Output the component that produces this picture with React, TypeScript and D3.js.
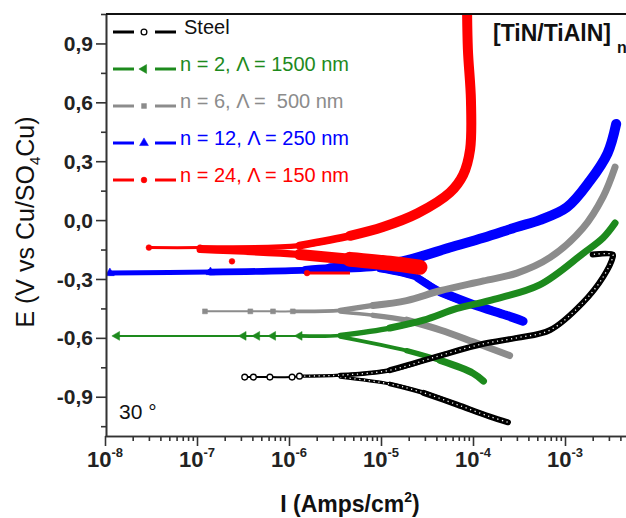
import * as d3 from 'd3'
import { useEffect, useRef } from 'react'

type Pt = [number, number] // [I (A/cm2), E (V vs Cu/SO4Cu)]

// polarisation curves: anodic branch starts at the tip (Ecorr)
const steelAnodic: Pt[] = [[3.3e-7, -0.80], [4.1e-7, -0.80], [6.2e-7, -0.80], [1.08e-6, -0.80], [1.3e-6, -0.795], [3.6e-6, -0.79], [1.25e-5, -0.765], [4.4e-5, -0.69], [1.3e-4, -0.63], [3.0e-4, -0.60], [6.9e-4, -0.56], [1.57e-3, -0.42], [2.6e-3, -0.29], [3.3e-3, -0.19], [3.3e-3, -0.175], [2.0e-3, -0.175]]
const steelCathodic: Pt[] = [[3.6e-6, -0.80], [1.25e-5, -0.835], [2.9e-5, -0.88], [6.7e-5, -0.94], [1.5e-4, -1.0], [2.4e-4, -1.03]]

const n2Anodic: Pt[] = [[1.35e-8, -0.59], [3.2e-7, -0.59], [4.5e-7, -0.59], [6.7e-7, -0.59], [1.3e-6, -0.59], [3.6e-6, -0.588], [1.25e-5, -0.55], [2.9e-5, -0.51], [6.7e-5, -0.45], [1.5e-4, -0.41], [5.3e-4, -0.33], [1.57e-3, -0.17], [2.6e-3, -0.09], [3.5e-3, -0.015]]
const n2Cathodic: Pt[] = [[3.6e-6, -0.595], [1.9e-5, -0.665], [4.4e-5, -0.715], [1.0e-4, -0.78], [1.3e-4, -0.82]]

const n6Anodic: Pt[] = [[1.22e-7, -0.465], [3.8e-7, -0.465], [6.7e-7, -0.465], [1.1e-6, -0.465], [3.6e-6, -0.46], [8.2e-6, -0.435], [1.9e-5, -0.41], [4.4e-5, -0.36], [1.3e-4, -0.31], [3.0e-4, -0.27], [6.9e-4, -0.19], [1.57e-3, -0.04], [2.6e-3, 0.12], [3.5e-3, 0.27]]
const n6Cathodic: Pt[] = [[3.6e-6, -0.468], [8.2e-6, -0.485], [1.9e-5, -0.51], [4.4e-5, -0.56], [1.0e-4, -0.62], [2.5e-4, -0.69]]

const n12Anodic: Pt[] = [[1.13e-8, -0.27], [1.4e-7, -0.265], [1.5e-6, -0.255], [2.8e-6, -0.245], [9.7e-6, -0.23], [2.1e-5, -0.20], [5.6e-5, -0.14], [1.3e-4, -0.09], [3.0e-4, -0.035], [5.3e-4, 0.0], [1.05e-3, 0.065], [1.87e-3, 0.20], [2.9e-3, 0.34], [3.6e-3, 0.49]]
const n12Cathodic: Pt[] = [[9.7e-6, -0.25], [2.5e-5, -0.295], [4.4e-5, -0.365], [1.0e-4, -0.43], [2.3e-4, -0.485], [3.5e-4, -0.515]]

const n24Anodic: Pt[] = [[3.0e-8, -0.14], [1.08e-7, -0.14], [1.3e-6, -0.13], [4.6e-6, -0.08], [1.05e-5, -0.035], [2.5e-5, 0.035], [5.6e-5, 0.14], [7.8e-5, 0.23], [9.3e-5, 0.36], [9.5e-5, 0.61], [8.8e-5, 0.87], [8.6e-5, 1.12]]
const n24Cathodic: Pt[] = [[1.08e-7, -0.15], [1.3e-6, -0.175], [4.6e-6, -0.2], [1.25e-5, -0.22], [2.65e-5, -0.24]]
const n24Stray: Pt[] = [[1.57e-6, -0.27], [4.6e-6, -0.27]]
const n24Dots: Pt[] = [[2.4e-7, -0.21], [1.57e-6, -0.27]]

const seriesNames = ['Steel', 'n = 2, Λ = 1500 nm', 'n = 6, Λ =  500 nm', 'n = 12, Λ = 250 nm', 'n = 24, Λ = 150 nm']
const xDecades = [1e-8, 1e-7, 1e-6, 1e-5, 1e-4, 1e-3]
const yTicks = [-0.9, -0.6, -0.3, 0, 0.3, 0.6, 0.9]

const styles = [
  { color: '#000000', marker: 'circle', hollow: true, thin: 2, anW: 6, caW: 6, thickFrom: 2e-6 },
  { color: '#1d8a1d', marker: 'left', hollow: false, thin: 2, anW: 7, caW: 7, thickFrom: 2.5e-6 },
  { color: '#8c8c8c', marker: 'square', hollow: false, thin: 2, anW: 7, caW: 7, thickFrom: 3e-6 },
  { color: '#0000ff', marker: 'up', hollow: false, thin: 5, anW: 10, caW: 9, thickFrom: 1.5e-6 },
  { color: '#ff0000', marker: 'circle', hollow: false, thin: 3, anW: 10, caW: 15, thickFrom: 1.5e-7 },
]

const App = () => {
  const svgRef = useRef<SVGSVGElement>(null)

  useEffect(() => {
    const svg = d3.select(svgRef.current)
    svg.selectAll('*').remove()
    const font = 'Liberation Sans, Arial, sans-serif'

    const x = d3.scaleLog().domain([1e-8, 1e-2]).range([105, 657])
    const y = d3.scaleLinear().domain([-1.1, 1.05]).range([436, 14])

    svg.append('defs').append('clipPath').attr('id', 'plotclip')
      .append('rect').attr('x', 106).attr('y', 14).attr('width', 560).attr('height', 422)

    const line = d3.line<Pt>().x(d => x(d[0])).y(d => y(d[1])).curve(d3.curveCatmullRom.alpha(0.5))

    const symbolPath = (kind: string, size = 30) => {
      if (kind === 'square') return d3.symbol(d3.symbolSquare, size - 6)()
      if (kind === 'up' || kind === 'left') return d3.symbol(d3.symbolTriangle, size + 4)()
      return d3.symbol(d3.symbolCircle, size - 4)()
    }
    const addMarker = (g: any, kind: string, cx: number, cy: number, st: any) => {
      g.append('path').attr('d', symbolPath(kind))
        .attr('transform', `translate(${cx},${cy})` + (kind === 'left' ? ' rotate(-90)' : ''))
        .attr('fill', st.hollow ? '#fff' : st.color)
        .attr('stroke', st.color).attr('stroke-width', st.hollow ? 1.3 : 0.5)
    }

    const plot = svg.append('g').attr('clip-path', 'url(#plotclip)')

    const drawBranch = (pts: Pt[], st: any, w: number) => {
      plot.append('path').attr('d', line(pts)).attr('fill', 'none')
        .attr('stroke', st.color).attr('stroke-width', st.thin)
        .attr('stroke-linecap', 'round').attr('stroke-linejoin', 'round')
      const i0 = Math.max(0, pts.findIndex(p => p[0] >= st.thickFrom) - 1)
      // band widens over the first few points, like the scatter of the measurement
      const steps = 3
      for (let j = 0; j < steps; j++) {
        const part = pts.slice(Math.min(i0 + j, pts.length - 2))
        const wj = st.thin + (w - st.thin) * (j + 1) / steps
        plot.append('path').attr('d', line(part)).attr('fill', 'none')
          .attr('stroke', st.color).attr('stroke-width', wj)
          .attr('stroke-linecap', 'round').attr('stroke-linejoin', 'round')
      }
      if (st.hollow) {
        plot.append('path').attr('d', line(pts.slice(i0))).attr('fill', 'none')
          .attr('stroke', '#fff').attr('stroke-width', 1.3).attr('stroke-dasharray', '1.2 3.6')
      }
      pts.filter(p => p[0] < st.thickFrom).forEach(p => addMarker(plot, st.marker, x(p[0]), y(p[1]), st))
    }

    const curves: [Pt[], Pt[]][] = [
      [steelAnodic, steelCathodic],
      [n2Anodic, n2Cathodic],
      [n6Anodic, n6Cathodic],
      [n12Anodic, n12Cathodic],
      [n24Anodic, n24Cathodic],
    ]
    // drawing order as in the figure
    ;[3, 2, 1, 0, 4].forEach(i => {
      const st = styles[i]
      drawBranch(curves[i][1], st, st.caW)
      drawBranch(curves[i][0], st, st.anW)
      if (i === 4) {
        plot.append('path').attr('d', line(n24Stray)).attr('fill', 'none')
          .attr('stroke', st.color).attr('stroke-width', 3)
        n24Dots.forEach(p => addMarker(plot, 'circle', x(p[0]), y(p[1]), st))
      }
    })

    // axes
    const minor: number[] = []
    xDecades.concat([1e-2]).forEach(d => { for (let k = 2; k <= 9; k++) minor.push(d * k) })
    const axisColor = '#333'
    const xMinor = svg.append('g').attr('transform', 'translate(0,436)')
      .call(d3.axisBottom(x).tickValues(minor).tickSize(5).tickSizeOuter(0).tickFormat(() => ''))
    const xMajor = svg.append('g').attr('transform', 'translate(0,436)')
      .call(d3.axisBottom(x).tickValues(xDecades.concat([1e-2])).tickSize(10).tickSizeOuter(0).tickFormat(() => ''))
    const yMinorVals = yTicks.map(v => v - 0.15).concat([1.05])
    const yMinor = svg.append('g').attr('transform', 'translate(106,0)')
      .call(d3.axisLeft(y).tickValues(yMinorVals).tickSize(5).tickSizeOuter(0).tickFormat(() => ''))
    const yMajor = svg.append('g').attr('transform', 'translate(106,0)')
      .call(d3.axisLeft(y).tickValues(yTicks).tickSize(10).tickSizeOuter(0).tickFormat(() => ''))
    ;[xMinor, xMajor, yMinor, yMajor].forEach(g => {
      g.selectAll('path, line').attr('stroke', axisColor).attr('stroke-width', 1.6)
    })
    svg.append('line').attr('x1', 106).attr('x2', 657).attr('y1', 14).attr('y2', 14)
      .attr('stroke', '#111').attr('stroke-width', 1.8)

    // x tick labels 10^n
    xDecades.forEach(d => {
      const t = svg.append('text').attr('x', x(d)).attr('y', 467).attr('text-anchor', 'middle')
        .attr('font-family', font).attr('font-weight', 'bold').attr('font-size', 22).attr('fill', '#222')
      t.append('tspan').text('10')
      t.append('tspan').attr('dy', -10).attr('font-size', 13).text(String(Math.round(Math.log10(d))))
    })
    // y tick labels
    yTicks.forEach(v => {
      svg.append('text').attr('x', 93).attr('y', y(v)).attr('dy', '0.36em').attr('text-anchor', 'end')
        .attr('font-family', font).attr('font-weight', 'bold').attr('font-size', 21).attr('fill', '#222')
        .text(v.toFixed(1).replace('.', ','))
    })

    // axis titles
    const xt = svg.append('text').attr('x', 350).attr('y', 512).attr('text-anchor', 'middle')
      .attr('font-family', font).attr('font-weight', 'bold').attr('font-size', 23).attr('fill', '#111')
    xt.append('tspan').text('I (Amps/cm')
    xt.append('tspan').attr('dy', -10).attr('font-size', 14).text('2')
    xt.append('tspan').attr('dy', 10).text(')')

    const yt = svg.append('text').attr('transform', 'translate(34,222) rotate(-90)').attr('text-anchor', 'middle')
      .attr('font-family', font).attr('font-size', 25).attr('fill', '#111')
    yt.append('tspan').text('E (V vs Cu/SO')
    yt.append('tspan').attr('dy', 6).attr('font-size', 15).text('4')
    yt.append('tspan').attr('dy', -6).text('Cu)')

    // title and temperature
    svg.append('text').attr('x', 493).attr('y', 41).attr('font-family', font).attr('font-weight', 'bold')
      .attr('font-size', 23).attr('fill', '#111').text('[TiN/TiAlN]')
    svg.append('text').attr('x', 617).attr('y', 53).attr('font-family', font).attr('font-weight', 'bold')
      .attr('font-size', 16).attr('fill', '#111').text('n')
    svg.append('text').attr('x', 119).attr('y', 419).attr('font-family', font)
      .attr('font-size', 21).attr('fill', '#111').text('30 °')

    // legend
    seriesNames.forEach((name, i) => {
      const st = styles[i]
      const ly = 32 + i * 37
      const g = svg.append('g')
      g.append('line').attr('x1', 113).attr('x2', 134).attr('y1', ly).attr('y2', ly)
        .attr('stroke', st.color).attr('stroke-width', 3)
      g.append('line').attr('x1', 155).attr('x2', 176).attr('y1', ly).attr('y2', ly)
        .attr('stroke', st.color).attr('stroke-width', 3)
      addMarker(g, st.marker, 144, ly, st)
      g.append('text').attr('x', i === 0 ? 184 : 180).attr('y', ly + 1.5)
        .attr('font-family', font).attr('font-size', 20).attr('fill', i === 0 ? '#111' : st.color)
        .style('white-space', 'pre').text(name)
    })
  }, [])

  return (
    <svg ref={svgRef} width={626} height={518}
      style={{ position: 'absolute', left: 0, top: 0, background: '#fff' }} />
  )
}

export default App
